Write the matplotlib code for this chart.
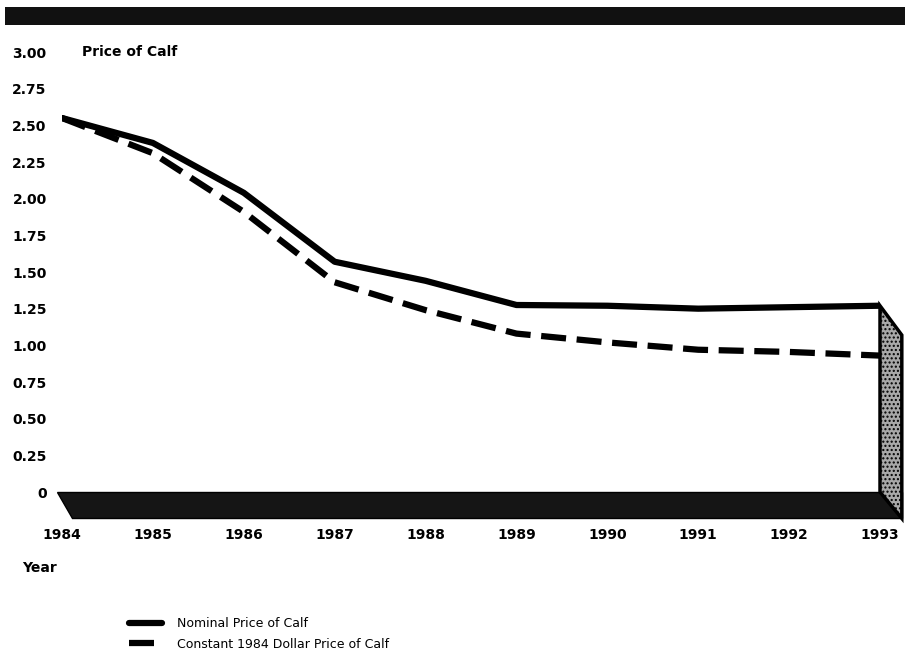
import matplotlib
matplotlib.use("Agg")
import matplotlib.pyplot as plt
from matplotlib.patches import Polygon, Rectangle

years = [1984, 1985, 1986, 1987, 1988, 1989, 1990, 1991, 1992, 1993]
nominal = [2.55, 2.38, 2.04, 1.57, 1.44, 1.275, 1.27, 1.25, 1.26, 1.27]
constant = [2.55, 2.31, 1.91, 1.43, 1.24, 1.08, 1.02, 0.97, 0.955, 0.93]
y_ticks = [0, 0.25, 0.5, 0.75, 1.0, 1.25, 1.5, 1.75, 2.0, 2.25, 2.5, 2.75, 3.0]
y_labels = ["0", "0.25", "0.50", "0.75", "1.00", "1.25", "1.50", "1.75",
            "2.00", "2.25", "2.50", "2.75", "3.00"]
x_labels = [str(y) for y in years]

W, H = 908, 662
fig = plt.figure(figsize=(W / 100, H / 100), dpi=100)
ax = fig.add_axes([62 / W, (H - 492) / H, 818 / W, 440 / H])
ax.set_xlim(years[0], years[-1])
ax.set_ylim(0, 3)

ax.plot(years, nominal, color="black", lw=4.5, solid_capstyle="round",
        solid_joinstyle="round", label="Nominal Price of Calf", zorder=3)
ax.plot(years, constant, color="black", lw=4.5, linestyle=(0, (4, 1.7)),
        label="Constant 1984 Dollar Price of Calf", zorder=3)

# pseudo 3-D floor and right wall
dx, dy = 0.24, 0.18
floor = Polygon([(years[0] - 0.05, 0.0), (years[-1] + dx, 0.0),
                 (years[-1] + dx, -dy), (years[0] + 0.11, -dy)],
                closed=True, facecolor="#151515", edgecolor="black",
                clip_on=False, zorder=2)
ax.add_patch(floor)
wall = Polygon([(years[-1], nominal[-1]), (years[-1] + dx, nominal[-1] - 0.2),
                (years[-1] + dx, -dy), (years[-1], 0)],
               closed=True, facecolor="#a8a8a8", edgecolor="black", lw=2.5,
               hatch="....", clip_on=False, zorder=2)
ax.add_patch(wall)

for s in ax.spines.values():
    s.set_visible(False)
ax.set_yticks(y_ticks)
ax.set_yticklabels(y_labels, fontsize=10, fontweight="bold")
ax.set_xticks(years)
ax.set_xticklabels(x_labels, fontsize=10, fontweight="bold")
ax.tick_params(axis="y", length=0, pad=11)
ax.tick_params(axis="x", length=0, pad=26)

# dark band across the top
fig.patches.append(Rectangle((5 / W, 1 - 25 / H), 900 / W, 18 / H,
                             transform=fig.transFigure, facecolor="#111111",
                             edgecolor="none"))

fig.text(82 / W, 1 - 52 / H, "Price of Calf", fontsize=10,
         fontweight="bold", va="center", ha="left")
fig.text(22 / W, 1 - 568 / H, "Year", fontsize=10, fontweight="bold",
         va="center", ha="left")

fig.legend(loc="upper left", bbox_to_anchor=(118 / W, 1 - 606 / H),
           frameon=False, fontsize=9, handlelength=2.6, handletextpad=1.2,
           labelspacing=0.6)

fig.savefig("out.png", dpi=100)
